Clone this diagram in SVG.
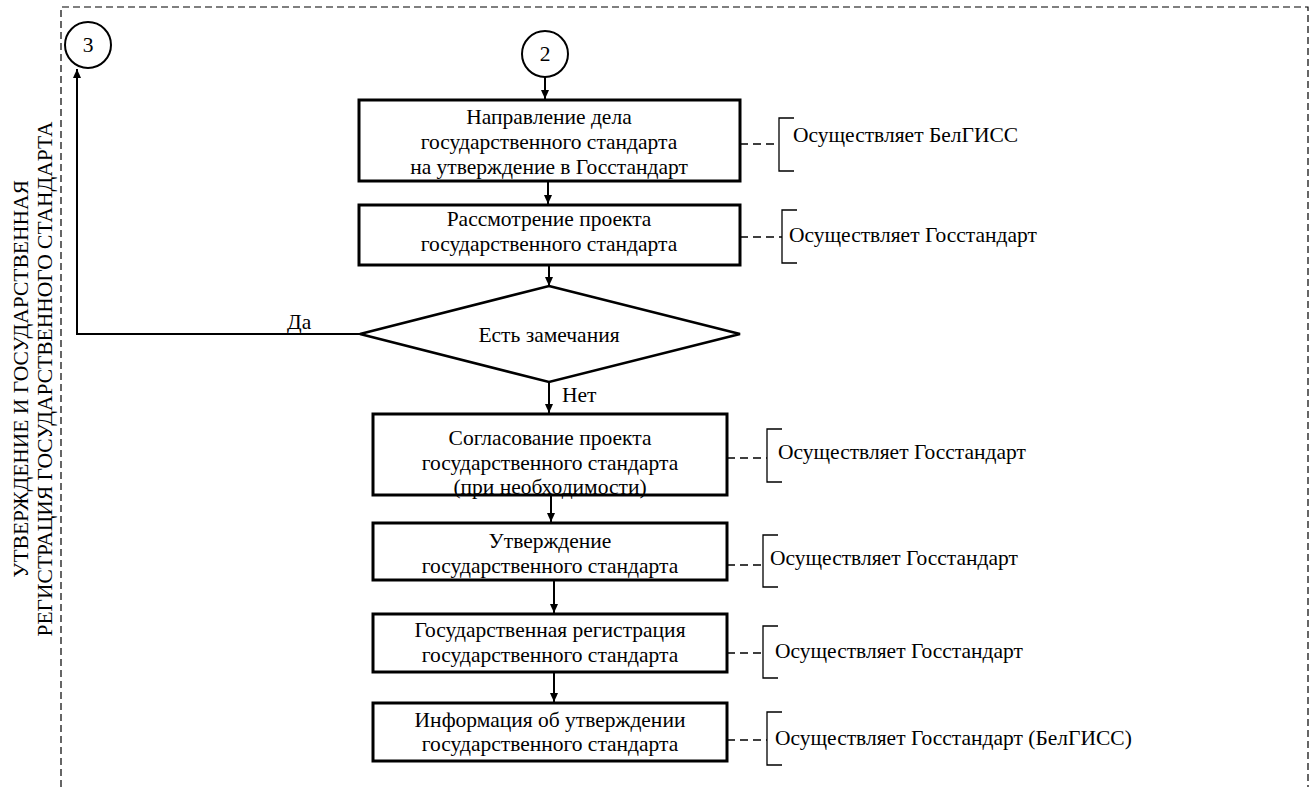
<svg xmlns="http://www.w3.org/2000/svg" width="1315" height="787" viewBox="0 0 1315 787">
<style>
text{font-family:"Liberation Serif","Times New Roman",serif;fill:#000;}
.t{font-size:21.5px;text-anchor:middle;}
.a{font-size:21.5px;}
.box{fill:#fff;stroke:#000;stroke-width:3;}
.dia{fill:#fff;stroke:#000;stroke-width:2.5;}
.circ{fill:#fff;stroke:#000;stroke-width:2;}
.con{fill:none;stroke:#000;stroke-width:2;}
.dash{fill:none;stroke:#000;stroke-width:1.3;stroke-dasharray:8 5;}
.br{fill:none;stroke:#000;stroke-width:1.3;}
.frame{fill:none;stroke:#000;stroke-width:1.2;stroke-dasharray:7 4;}
</style>
<defs>
<marker id="arr" markerWidth="10" markerHeight="10" refX="9" refY="5" orient="auto" markerUnits="userSpaceOnUse">
<path d="M0,1 L9,5 L0,9 Z" fill="#000"/>
</marker>
</defs>
<rect width="1315" height="787" fill="#fff"/>
<g id="frame">
<path class="frame" d="M61,787 L61,7 L1308,7 L1308,787"/>
<text class="t" transform="translate(28,379) rotate(-90)">УТВЕРЖДЕНИЕ И ГОСУДАРСТВЕННАЯ</text>
<text class="t" transform="translate(52,379) rotate(-90)">РЕГИСТРАЦИЯ ГОСУДАРСТВЕННОГО СТАНДАРТА</text>
</g>
<g id="connectors">
<line class="con" x1="545" y1="77" x2="545" y2="99" marker-end="url(#arr)"/>
<line class="con" x1="548" y1="181" x2="548" y2="204" marker-end="url(#arr)"/>
<line class="con" x1="549" y1="265" x2="549" y2="286" marker-end="url(#arr)"/>
<path class="con" d="M360,334 L77,334 L77,69" marker-end="url(#arr)"/>
<text class="a" x="287" y="329">Да</text>
<line class="con" x1="549" y1="382" x2="549" y2="413" marker-end="url(#arr)"/>
<text class="a" x="562" y="402">Нет</text>
<line class="con" x1="551" y1="495" x2="551" y2="522" marker-end="url(#arr)"/>
<line class="con" x1="554" y1="580" x2="554" y2="613" marker-end="url(#arr)"/>
<line class="con" x1="554" y1="672" x2="554" y2="702" marker-end="url(#arr)"/>
<line class="dash" x1="740" y1="144" x2="779" y2="144"/>
<line class="dash" x1="740" y1="237" x2="782" y2="237"/>
<line class="dash" x1="727" y1="458" x2="767" y2="458"/>
<line class="dash" x1="727" y1="565" x2="763" y2="565"/>
<line class="dash" x1="727" y1="653" x2="763" y2="653"/>
<line class="dash" x1="727" y1="740" x2="767" y2="740"/>
</g>
<g id="c3"><circle class="circ" cx="88" cy="45" r="23"/><text class="t" x="88" y="52">3</text></g>
<g id="c2"><circle class="circ" cx="545" cy="54" r="23"/><text class="t" x="545" y="61">2</text></g>
<g id="n1"><rect class="box" x="359" y="100" width="381" height="81"/>
<text class="t" x="549" y="124">Направление дела</text>
<text class="t" x="549" y="149">государственного стандарта</text>
<text class="t" x="549" y="174">на утверждение в Госстандарт</text></g>
<g id="n2"><rect class="box" x="359" y="205" width="381" height="60"/>
<text class="t" x="549" y="226">Рассмотрение проекта</text>
<text class="t" x="549" y="251">государственного стандарта</text></g>
<g id="d1"><polygon class="dia" points="549,286 740,334 549,382 360,334"/>
<text class="t" x="549" y="342">Есть замечания</text></g>
<g id="n3"><rect class="box" x="373" y="414" width="354" height="81"/>
<text class="t" x="550" y="445">Согласование проекта</text>
<text class="t" x="550" y="470">государственного стандарта</text>
<text class="t" x="550" y="494">(при необходимости)</text></g>
<g id="n4"><rect class="box" x="373" y="523" width="354" height="57"/>
<text class="t" x="550" y="548">Утверждение</text>
<text class="t" x="550" y="573">государственного стандарта</text></g>
<g id="n5"><rect class="box" x="373" y="614" width="354" height="58"/>
<text class="t" x="550" y="637">Государственная регистрация</text>
<text class="t" x="550" y="662">государственного стандарта</text></g>
<g id="n6"><rect class="box" x="373" y="703" width="354" height="58"/>
<text class="t" x="550" y="727">Информация об утверждении</text>
<text class="t" x="550" y="751">государственного стандарта</text></g>
<g id="r1"><path class="br" d="M794,118 L779,118 L779,171 L794,171"/><text class="a" x="793" y="142">Осуществляет БелГИСС</text></g>
<g id="r2"><path class="br" d="M797,210 L782,210 L782,263 L797,263"/><text class="a" x="789" y="242">Осуществляет Госстандарт</text></g>
<g id="r3"><path class="br" d="M782,429 L767,429 L767,482 L782,482"/><text class="a" x="778" y="459">Осуществляет Госстандарт</text></g>
<g id="r4"><path class="br" d="M778,535 L763,535 L763,587 L778,587"/><text class="a" x="770" y="565">Осуществляет Госстандарт</text></g>
<g id="r5"><path class="br" d="M778,626 L763,626 L763,678 L778,678"/><text class="a" x="775" y="658">Осуществляет Госстандарт</text></g>
<g id="r6"><path class="br" d="M782,712 L767,712 L767,765 L782,765"/><text class="a" x="775" y="745">Осуществляет Госстандарт (БелГИСС)</text></g>
</svg>
